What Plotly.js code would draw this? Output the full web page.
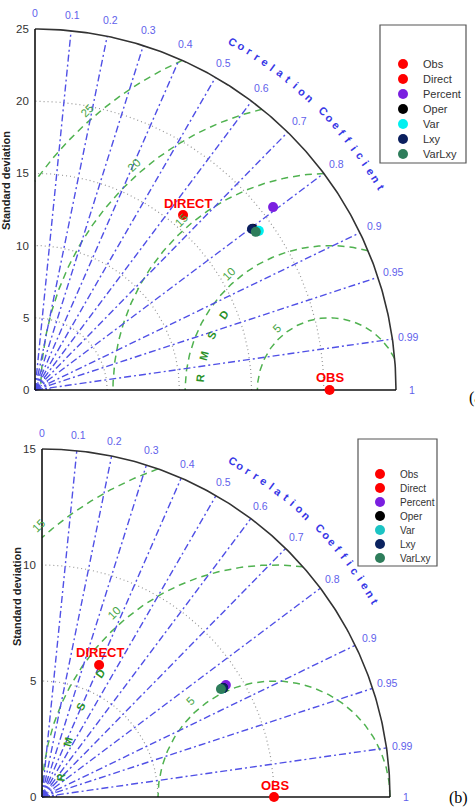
<!DOCTYPE html>
<html><head><meta charset="utf-8">
<script src="https://cdn.plot.ly/plotly-3.0.1.min.js"></script>
<style>html,body{margin:0;padding:0;background:#fff}#chart{width:475px;height:807px}</style>
</head><body><div id="chart"></div>
<script>
// ---------------- data ----------------
const seriesNames = ['Obs','Direct','Percent','Oper','Var','Lxy','VarLxy'];
const seriesColorsA = ['#ff0000','#ff0000','#7a1fe0','#000000','#00f0f0','#0b1f5e','#2e7d5b'];
const seriesColorsB = ['#ff0000','#ff0000','#7a1fe0','#000000','#1cc4c4','#0b2360','#2e7d5b'];
const stdA  = [20.4, 15.87, 20.79, 18.77, 19.02, 18.71, 18.81];
const corrA = [1.0, 0.646, 0.793, 0.804, 0.815, 0.803, 0.813];
const stdB  = [10.0, 6.20, 9.28, 9.11, 9.05, 9.11, 9.01];
const corrB = [1.0, 0.397, 0.854, 0.857, 0.857, 0.857, 0.856];
const corrTicks = [0,0.1,0.2,0.3,0.4,0.5,0.6,0.7,0.8,0.9,0.95,0.99,1];
const corrTickLabels = ['0','0.1','0.2','0.3','0.4','0.5','0.6','0.7','0.8','0.9','0.95','0.99','1'];
const stdTicksA = [0,5,10,15,20,25];
const stdTicksB = [0,5,10,15];
const rmsLevelsA = [5,10,15,20,25];
const rmsLevelsB = [5,10,15];
const pointLabels = {Obs:'OBS', Direct:'DIRECT'};
const corrTitle = 'Correlation Coefficient';
const rmsTitle = 'RMSD';
const yTitle = 'Standard deviation';
const panelTags = ['(a)','(b)'];

// ---------------- layout config ----------------
const W = 475, H = 807;
const FONT = 'Liberation Sans, Arial, Helvetica, sans-serif';
const panels = [
  {std:stdA, corr:corrA, colors:seriesColorsA, stdTicks:stdTicksA, rms:rmsLevelsA,
   ox:35, oy:390, s:14.44, xr:[-0.5,27], yr:[-0.5,26.8], xa:'x', ya:'y', xk:'xaxis', yk:'yaxis',
   rmsRho:9.0, rmsLabOff:0.6, directShift:[5,12],
   leg:{xa:'x3', ya:'y3', xk:'xaxis3', yk:'yaxis3', l:380, t:25, w:86, h:138, top:39, step:15, mx:23, tx:41, font:11},
   tag:{x:467, y:398}, title:{x:6, y:181}},
  {std:stdB, corr:corrB, colors:seriesColorsB, stdTicks:stdTicksB, rms:rmsLevelsB,
   ox:42, oy:797, s:23.2, xr:[-1,16.2], yr:[-0.4,16.2], xa:'x2', ya:'y2', xk:'xaxis2', yk:'yaxis2',
   rmsRho:9.21, rmsLabOff:0.5, directShift:[1,12],
   leg:{xa:'x4', ya:'y4', xk:'xaxis4', yk:'yaxis4', l:358, t:439, w:79, h:127, top:35, step:14, mx:22, tx:40, font:10},
   tag:{x:447, y:798}, title:{x:17, y:597}}
];

const BLUE = 'rgb(80,80,230)';
const BLUE_LBL = 'rgb(95,95,235)';
const GREEN = 'rgb(80,178,80)';
const GREEN_LBL = 'rgb(70,165,70)';
const GREEN_DARK = 'rgb(40,145,40)';
const GRAY = 'rgb(150,150,150)';
const D2R = Math.PI/180;

const traces = [];
const annotations = [];
const shapes = [];
const layout = {
  width: W, height: H, margin:{l:0,r:0,t:0,b:0},
  paper_bgcolor:'#fff', plot_bgcolor:'rgba(0,0,0,0)', showlegend:false,
  font:{family:FONT}
};

function arc(cx, cy, r, a0, a1, n){
  const xs=[], ys=[];
  for(let i=0;i<=n;i++){ const a=(a0+(a1-a0)*i/n)*D2R; xs.push(cx+r*Math.cos(a)); ys.push(cy+r*Math.sin(a)); }
  return {x:xs, y:ys};
}
function axisBase(extra){
  return Object.assign({showgrid:false, zeroline:false, showline:false, showticklabels:false, ticks:'', fixedrange:true}, extra);
}

panels.forEach((p, pi) => {
  const R = p.stdTicks[p.stdTicks.length-1];
  const obs = p.std[0];
  const left = p.ox + p.xr[0]*p.s, right = p.ox + p.xr[1]*p.s;
  const bottom = p.oy - p.yr[0]*p.s, top = p.oy - p.yr[1]*p.s;
  layout[p.xk] = axisBase({range:p.xr, domain:[left/W, right/W], anchor:p.ya});
  layout[p.yk] = axisBase({range:p.yr, domain:[Math.max(0,(H-bottom)/H), Math.min(1,(H-top)/H)], anchor:p.xa});
  const base = {xaxis:p.xa, yaxis:p.ya, hoverinfo:'skip', showlegend:false};

  // std circles (gray dotted)
  p.stdTicks.filter(v => v>0 && v<R).forEach(v => {
    const a = arc(0,0,v,0,90,120);
    traces.push(Object.assign({type:'scatter', mode:'lines', x:a.x, y:a.y, line:{color:GRAY, width:1.2, dash:'1px,3px'}}, base));
  });
  // RMSD circles (green dashed)
  p.rms.forEach(rho => {
    let cmax = (R*R - obs*obs - rho*rho)/(2*obs*rho);
    cmax = Math.min(1, Math.max(-1, cmax));
    const cmin = Math.max(-1, -obs/rho);
    const a0 = Math.acos(cmax)/D2R, a1 = Math.acos(cmin)/D2R;
    const a = arc(obs,0,rho,a0,a1,160);
    traces.push(Object.assign({type:'scatter', mode:'lines', x:a.x, y:a.y, line:{color:GREEN, width:1.5, dash:'7px,5px'}}, base));
  });
  // correlation lines
  corrTicks.filter(c => c>0 && c<1).forEach(c => {
    const sn = Math.sqrt(1-c*c);
    traces.push(Object.assign({type:'scatter', mode:'lines', x:[0, R*c], y:[0, R*sn], line:{color:BLUE, width:1.4, dash:'7px,3px,2px,3px'}}, base));
  });
  // small blue arcs at origin
  [0.012,0.022,0.032,0.042].forEach(f => {
    const a = arc(0,0,R*f,0,90,30);
    traces.push(Object.assign({type:'scatter', mode:'lines', x:a.x, y:a.y, line:{color:BLUE, width:1, dash:'2px,2px'}}, base));
  });
  // outer arc
  const oa = arc(0,0,R,0,90,200);
  traces.push(Object.assign({type:'scatter', mode:'lines', x:oa.x, y:oa.y, line:{color:'#333', width:1.6}}, base));
  // axis lines
  traces.push(Object.assign({type:'scatter', mode:'lines', x:[0,0], y:[0,R], line:{color:'#111', width:1.6}}, base));
  traces.push(Object.assign({type:'scatter', mode:'lines', x:[0,R], y:[0,0], line:{color:'#111', width:1.6}}, base));

  // data points
  seriesNames.forEach((nm, i) => {
    const th = Math.acos(p.corr[i]);
    traces.push(Object.assign({type:'scatter', mode:'markers', name:nm, cliponaxis:false,
      x:[p.std[i]*Math.cos(th)], y:[p.std[i]*Math.sin(th)],
      marker:{size:10, color:p.colors[i], line:{width:0}}}, base));
    if(pointLabels[nm]){
      annotations.push({xref:p.xa, yref:p.ya, x:p.std[i]*Math.cos(th), y:p.std[i]*Math.sin(th),
        text:'<b>'+pointLabels[nm]+'</b>', showarrow:false, xshift: nm==='Direct'?p.directShift[0]:1, yshift:12,
        font:{size:13, color:'#ff0000', family:FONT}});
    }
  });

  // y tick labels
  p.stdTicks.forEach(v => {
    annotations.push({xref:p.xa, yref:p.ya, x:0, y:v, text:String(v), showarrow:false, xanchor:'right', yanchor:'middle', xshift:-4,
      font:{size:11.5, color:'#333', family:FONT}});
  });
  // correlation tick labels
  corrTicks.forEach((c, i) => {
    const th = Math.acos(c);
    const r = 1.045*R;
    annotations.push({xref:p.xa, yref:p.ya, x:r*Math.cos(th), y:r*Math.sin(th), text:corrTickLabels[i], showarrow:false,
      xanchor:'center', yanchor:'middle', font:{size:10.5, color:BLUE_LBL, family:FONT}});
  });
  // curved title
  const chars = corrTitle.split('');
  const t0 = 60.4, t1 = 30.4, rt = 1.11*R;
  chars.forEach((ch, i) => {
    if(ch === ' ') return;
    const t = t0 - (t0-t1)*i/(chars.length-1);
    annotations.push({xref:p.xa, yref:p.ya, x:rt*Math.cos(t*D2R), y:rt*Math.sin(t*D2R), text:'<b>'+ch+'</b>', showarrow:false,
      xanchor:'center', yanchor:'middle', textangle: 90-t, font:{size:11, color:'rgb(55,55,230)', family:FONT}});
  });
  // RMSD contour labels
  p.rms.forEach(rho => {
    const a = 131*D2R, r = rho + p.rmsLabOff;
    annotations.push({xref:p.xa, yref:p.ya, x:obs + r*Math.cos(a), y:r*Math.sin(a), text:String(rho), showarrow:false,
      xanchor:'center', yanchor:'middle', textangle:-45, font:{size:11.5, color:GREEN_LBL, family:FONT}});
  });
  // RMSD letters
  const rAng = [174.7,165,155,144.7];
  rmsTitle.split('').forEach((ch, i) => {
    const a = rAng[i]*D2R;
    annotations.push({xref:p.xa, yref:p.ya, x:obs + p.rmsRho*Math.cos(a), y:p.rmsRho*Math.sin(a), text:'<b>'+ch+'</b>', showarrow:false,
      xanchor:'center', yanchor:'middle', textangle: 90-rAng[i], font:{size:11, color:GREEN_DARK, family:FONT}});
  });
  // y title
  annotations.push({xref:'paper', yref:'paper', x:p.title.x/W, y:(H-p.title.y)/H, text:'<b>'+yTitle+'</b>', showarrow:false,
    xanchor:'center', yanchor:'middle', textangle:-90, font:{size:11, color:'#222', family:FONT}});
  // panel tag
  annotations.push({xref:'paper', yref:'paper', x:p.tag.x/W, y:(H-p.tag.y)/H, xanchor:'left', yanchor:'middle', text:panelTags[pi], showarrow:false,
    font:{size:16, color:'#000', family:'Liberation Serif, Times New Roman, serif'}});

  // legend box (own axes)
  const L = p.leg;
  layout[L.xk] = axisBase({range:[0,L.w], domain:[L.l/W, (L.l+L.w)/W], anchor:L.ya});
  layout[L.yk] = axisBase({range:[L.h,0], domain:[(H-(L.t+L.h))/H, (H-L.t)/H], anchor:L.xa});
  shapes.push({type:'rect', xref:L.xa+' domain', yref:L.ya+' domain', x0:0, x1:1, y0:0, y1:1, line:{color:'#555', width:1.2}, fillcolor:'#fff', layer:'below'});
  const ly = seriesNames.map((_, i) => L.top + L.step*i);
  traces.push({type:'scatter', mode:'markers', xaxis:L.xa, yaxis:L.ya, hoverinfo:'skip', showlegend:false, cliponaxis:false,
    x:seriesNames.map(() => L.mx), y:ly, marker:{size:10, color:p.colors}});
  seriesNames.forEach((nm, i) => {
    annotations.push({xref:L.xa, yref:L.ya, x:L.tx, y:ly[i], text:nm, showarrow:false, xanchor:'left', yanchor:'middle',
      font:{size:L.font, color:'#333', family:FONT}});
  });
});

layout.annotations = annotations;
layout.shapes = shapes;
Plotly.newPlot('chart', traces, layout, {staticPlot:true, displayModeBar:false});
</script>
</body></html>
